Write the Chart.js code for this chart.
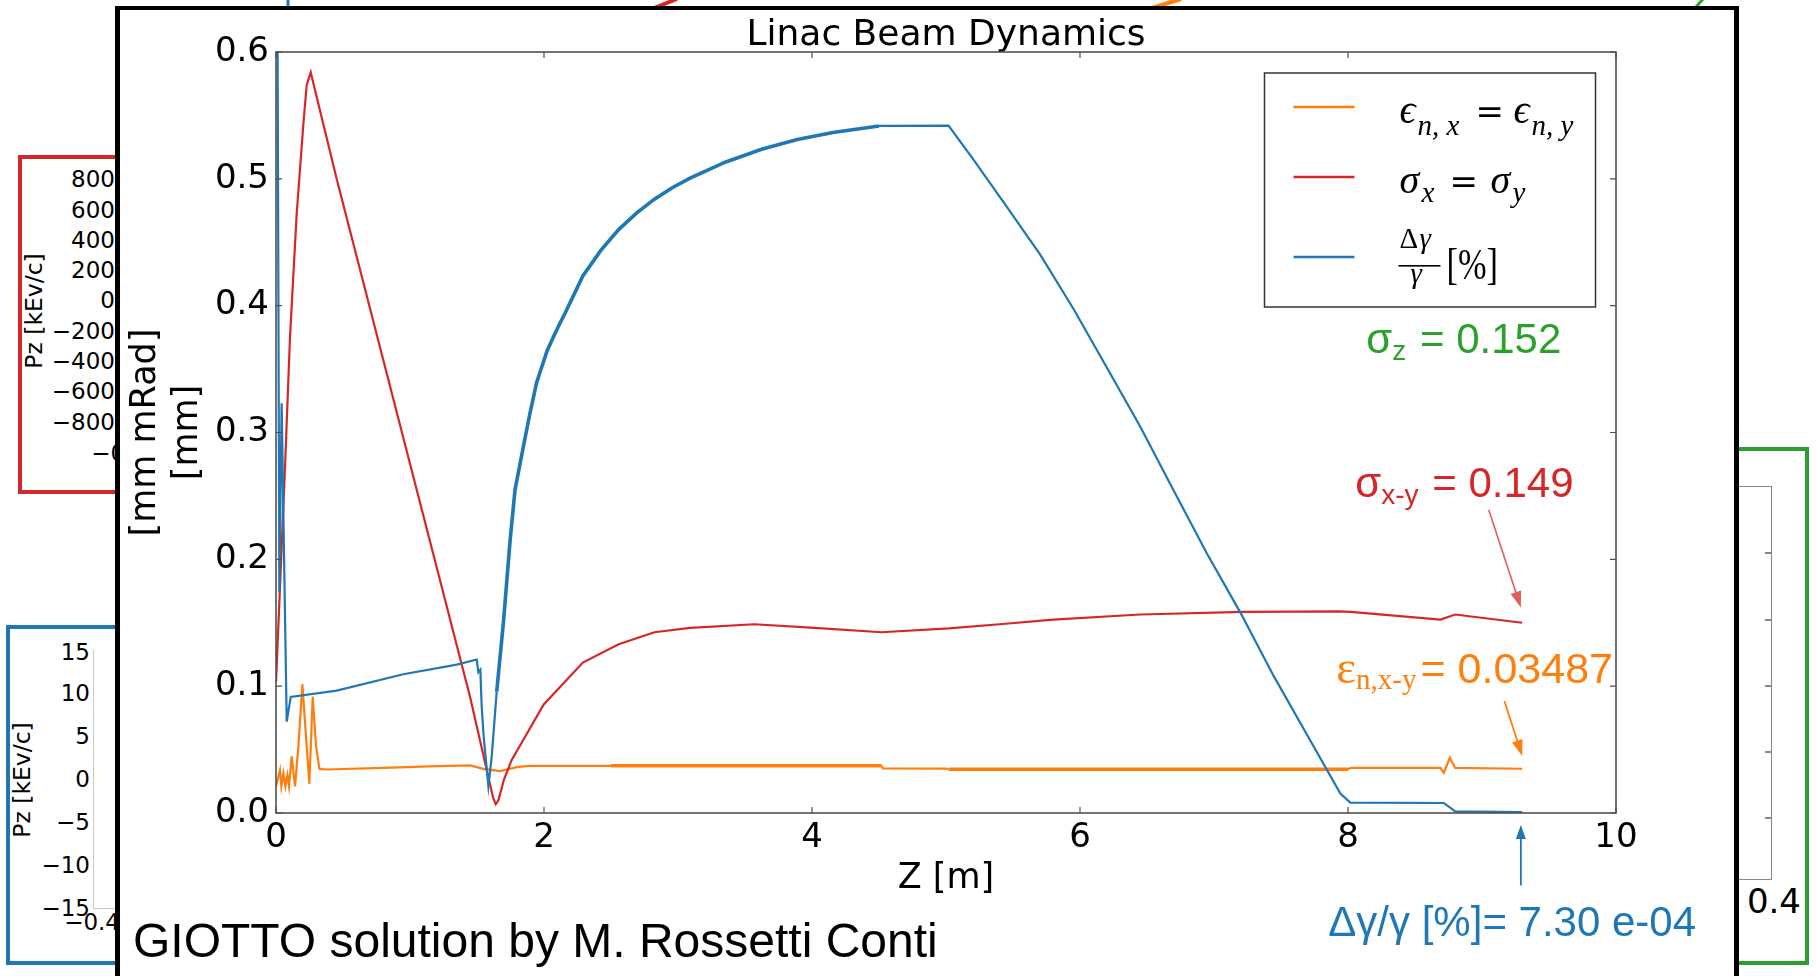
<!DOCTYPE html>
<html><head><meta charset="utf-8">
<script src="https://cdn.jsdelivr.net/npm/chart.js@4.4.0/dist/chart.umd.min.js"></script>
<style>
html,body{margin:0;padding:0;background:#fff}
body{width:1816px;height:976px;position:relative;overflow:hidden;font-family:'DejaVu Sans',sans-serif}
.bx{position:absolute;box-sizing:border-box;z-index:0}
.t{position:absolute;line-height:1;white-space:nowrap;transform:translate(-100%,-50%);font-size:23px;color:#000;z-index:0}
.rot{position:absolute;line-height:1;white-space:nowrap;transform:translate(-50%,-50%) rotate(-90deg);font-size:23.5px;z-index:0}
#frame{position:absolute;left:115px;top:6px;width:1624px;height:1000px;box-sizing:border-box;border:5px solid #000;border-top-width:4px;border-bottom:none;background:#fff;z-index:1}
#wrap{position:absolute;left:0;top:0;width:1816px;height:976px;z-index:2}
#credit{position:absolute;left:133px;top:917px;font:48px/48px 'Liberation Sans',Arial,sans-serif;white-space:nowrap;z-index:3;color:#000}
</style></head>
<body>
<!-- pieces of the slides behind -->
<svg class="bx" style="left:0;top:0" width="1816" height="12">
  <line x1="288" y1="0" x2="288" y2="7" stroke="#1f77b4" stroke-width="3"/>
  <line x1="654" y1="8" x2="677" y2="-1" stroke="#d62728" stroke-width="4"/>
  <line x1="1152" y1="8" x2="1181" y2="-1" stroke="#ff7f0e" stroke-width="4"/>
  <line x1="1695" y1="8" x2="1703" y2="-1" stroke="#2ca02c" stroke-width="3"/>
</svg>
<div class="bx" style="left:18px;top:155px;width:150px;height:339px;border:4px solid #d62728"></div>
<div class="t" style="left:115px;top:179px">800</div>
<div class="t" style="left:115px;top:210px">600</div>
<div class="t" style="left:115px;top:240px">400</div>
<div class="t" style="left:115px;top:270px">200</div>
<div class="t" style="left:115px;top:300px">0</div>
<div class="t" style="left:115px;top:331px">−200</div>
<div class="t" style="left:115px;top:361px">−400</div>
<div class="t" style="left:115px;top:391px">−600</div>
<div class="t" style="left:115px;top:422px">−800</div>
<div class="t" style="left:147px;top:453px">−0.4</div>
<div class="rot" style="left:35px;top:311px">Pz [kEv/c]</div>

<div class="bx" style="left:6px;top:625px;width:150px;height:340px;border:4px solid #1f77b4"></div>
<div class="bx" style="left:93px;top:650px;width:60px;height:259px;border-left:1.5px solid #c8c8c8;border-bottom:1.5px solid #c8c8c8"></div>
<div class="t" style="left:90px;top:652px">15</div>
<div class="t" style="left:90px;top:693px">10</div>
<div class="t" style="left:90px;top:736px">5</div>
<div class="t" style="left:90px;top:779px">0</div>
<div class="t" style="left:90px;top:822px">−5</div>
<div class="t" style="left:90px;top:865px">−10</div>
<div class="t" style="left:90px;top:908px">−15</div>
<div class="t" style="left:120px;top:922px">−0.4</div>
<div class="rot" style="left:23px;top:780px">Pz [kEv/c]</div>

<div class="bx" style="left:1700px;top:447px;width:109px;height:518px;border:4px solid #2ca02c"></div>
<div class="bx" style="left:1700px;top:486px;width:72px;height:394px;border:1.5px solid #888"></div>
<div class="bx" style="left:1765px;top:552px;width:6px;height:1.5px;background:#888"></div>
<div class="bx" style="left:1765px;top:619px;width:6px;height:1.5px;background:#888"></div>
<div class="bx" style="left:1765px;top:685px;width:6px;height:1.5px;background:#888"></div>
<div class="bx" style="left:1765px;top:751px;width:6px;height:1.5px;background:#888"></div>
<div class="bx" style="left:1765px;top:817px;width:6px;height:1.5px;background:#888"></div>
<div class="t" style="left:1801px;top:901px;font-size:34px">0.4</div>

<div id="frame"></div>
<div id="wrap"><canvas id="c" width="1816" height="976"></canvas></div>
<div id="credit">GIOTTO solution by M. Rossetti Conti</div>

<script>
const ORANGE='#ff7f0e', RED='#d62728', BLUE='#1f77b4', GREEN='#2ca02c';

// normalised emittance eps_n,x = eps_n,y [mm mrad] vs Z [m]
const zEps = [0,0.03,0.04,0.055,0.07,0.085,0.097,0.117,0.142,0.167,0.197,0.224,0.249,0.274,0.299,0.324,0.378,0.8,1.2,1.448,1.548,1.672,1.797,1.891,2.5,3.5,4.52,4.53,5.0,5.02,6.0,7.0,8.0,8.02,8.69,8.715,8.76,8.80,9.3];
const eps  = [0.021,0.0337,0.021,0.0313,0.021,0.030,0.021,0.0447,0.021,0.0525,0.1015,0.060,0.023,0.0917,0.0525,0.0348,0.0343,0.0355,0.037,0.0375,0.0348,0.033,0.0362,0.0371,0.0372,0.0372,0.0372,0.0352,0.035,0.0345,0.0345,0.0345,0.0345,0.0355,0.0355,0.0316,0.0434,0.0355,0.0349];

// beam size sigma_x = sigma_y [mm]
const zSig = [0,0.067,0.104,0.154,0.204,0.229,0.259,0.291,0.453,0.95,1.448,1.62,1.64,1.66,1.70,1.757,1.998,2.29,2.557,2.824,3.09,3.57,4.02,4.52,5.02,5.40,5.80,6.45,7.22,7.943,8.02,8.69,8.80,9.3];
const sig  = [0.103,0.272,0.374,0.472,0.543,0.574,0.584,0.570,0.4998,0.2958,0.0917,0.012,0.007,0.010,0.026,0.0415,0.0856,0.1186,0.133,0.1425,0.146,0.1488,0.146,0.1425,0.1455,0.1488,0.1525,0.1565,0.1585,0.1589,0.1585,0.1525,0.1565,0.150];

// energy spread dgamma/gamma [%]
const zDg = [0,0.012,0.025,0.042,0.08,0.11,0.453,0.95,1.349,1.498,1.51,1.525,1.535,1.55,1.585,1.61,1.647,1.697,1.747,1.784,1.837,1.891,1.944,2.024,2.104,2.157,2.29,2.424,2.557,2.69,2.824,2.957,3.09,3.357,3.624,3.89,4.157,4.50,5.019,5.205,5.454,5.703,5.952,6.201,6.45,6.698,6.947,7.196,7.445,7.694,7.943,8.017,8.715,8.80,9.3];
const dg  = [0.62,0.6,0.174,0.323,0.072,0.0915,0.0965,0.1094,0.117,0.121,0.111,0.113,0.084,0.06,0.021,0.0447,0.0957,0.150,0.215,0.255,0.284,0.313,0.339,0.3647,0.383,0.394,0.4234,0.4436,0.46,0.473,0.484,0.493,0.5005,0.5133,0.5233,0.531,0.5365,0.5417,0.542,0.5152,0.4778,0.4402,0.3974,0.351,0.3046,0.2545,0.2046,0.1582,0.1081,0.0617,0.0153,0.0082,0.0079,0.0013,0.00073];

// stretches where the trace has a fine ripple (drawn thicker)
const epsRipple = [[1.9,4.52],[5.02,8.0]];
const dgRipple = [[1.62,4.5]];

const pts = (xs, ys) => xs.map((x,i)=>({x, y:ys[i]}));
const inRip = (v, rs) => rs.some(r => v>=r[0] && v<r[1]);

function arrow(ctx,x0,y0,x1,y1,color,w,hl,hw){
  const a=Math.atan2(y1-y0,x1-x0), bx=x1-hl*Math.cos(a), by=y1-hl*Math.sin(a);
  ctx.strokeStyle=color; ctx.lineWidth=w;
  ctx.beginPath(); ctx.moveTo(x0,y0); ctx.lineTo(bx,by); ctx.stroke();
  ctx.fillStyle=color; ctx.beginPath(); ctx.moveTo(x1,y1);
  ctx.lineTo(bx+hw*Math.sin(a),by-hw*Math.cos(a)); ctx.lineTo(bx-hw*Math.sin(a),by+hw*Math.cos(a));
  ctx.closePath(); ctx.fill();
}
function rich(ctx,x,y,parts){
  for(const p of parts){ ctx.font=p[1]; ctx.fillText(p[0], x, y+(p[2]||0)); x+=ctx.measureText(p[0]).width+(p[3]||0); }
}

const axesBox = {
  id:'axesBox',
  afterDatasetsDraw(c){
    const {ctx, chartArea:a, scales:{x,y}} = c;
    ctx.save();
    ctx.strokeStyle='#505050'; ctx.lineWidth=1.6;
    ctx.strokeRect(a.left,a.top,a.right-a.left,a.bottom-a.top);
    ctx.lineWidth=1.2; ctx.beginPath();
    x.ticks.forEach(t=>{const p=x.getPixelForValue(t.value); ctx.moveTo(p,a.bottom); ctx.lineTo(p,a.bottom-6); ctx.moveTo(p,a.top); ctx.lineTo(p,a.top+6);});
    y.ticks.forEach(t=>{const p=y.getPixelForValue(t.value); ctx.moveTo(a.left,p); ctx.lineTo(a.left+6,p); ctx.moveTo(a.right,p); ctx.lineTo(a.right-6,p);});
    ctx.stroke(); ctx.restore();
  }
};

const legendBox = {
  id:'legendBox',
  afterDraw(c){
    const {ctx, chartArea:a} = c;
    const W=331, H=234, L=a.right-20.5-W, T=a.top+21;
    ctx.save();
    ctx.fillStyle='#fff'; ctx.fillRect(L,T,W,H);
    ctx.strokeStyle='#333'; ctx.lineWidth=1.5; ctx.strokeRect(L,T,W,H);
    [[ORANGE,34],[RED,104],[BLUE,184]].forEach(([col,dy])=>{
      ctx.strokeStyle=col; ctx.lineWidth=2.4; ctx.beginPath(); ctx.moveTo(L+29,T+dy); ctx.lineTo(L+90,T+dy); ctx.stroke();
    });
    ctx.fillStyle='#000'; ctx.textBaseline='alphabetic'; ctx.textAlign='left';
    const it='italic 40px "Liberation Serif", serif', sub='italic 29px "Liberation Serif", serif', eq='34px "DejaVu Serif", serif';
    ctx.font=it; ctx.fillText('ϵ',L+135,T+50);
    ctx.font=sub; ctx.fillText('n, x',L+153,T+62);
    ctx.font=eq; ctx.fillText('=',L+211,T+50);
    ctx.font=it; ctx.fillText('ϵ',L+249,T+50);
    ctx.font=sub; ctx.fillText('n, y',L+267,T+62);
    ctx.font=it; ctx.fillText('σ',L+135,T+120);
    ctx.font=sub; ctx.fillText('x',L+157,T+129);
    ctx.font=eq; ctx.fillText('=',L+185,T+120);
    ctx.font=it; ctx.fillText('σ',L+226,T+120);
    ctx.font=sub; ctx.fillText('y',L+248,T+129);
    ctx.font='29px "Liberation Serif", serif'; ctx.fillText('Δ',L+135,T+175);
    ctx.font='italic 29px "Liberation Serif", serif'; ctx.fillText('γ',L+155,T+175);
    ctx.fillRect(L+134,T+192,42,1.6);
    ctx.fillText('γ',L+146,T+210);
    ctx.translate(L+182,T+206); ctx.scale(0.78,1);
    ctx.font='44px "Liberation Serif", serif'; ctx.fillText('[%]',0,0);
    ctx.restore();
  }
};

const notes = {
  id:'notes',
  afterDraw(c){
    const {ctx, scales:{x,y}} = c;
    const X=v=>x.getPixelForValue(v), Y=v=>y.getPixelForValue(v);
    const sans=s=>s+'px "Liberation Sans", Arial, sans-serif', serif=s=>s+'px "Liberation Serif", serif';
    ctx.save(); ctx.textBaseline='alphabetic'; ctx.textAlign='left';
    ctx.fillStyle=GREEN; rich(ctx,X(8.137),Y(0.3628),[['σ',sans(42)],['z',sans(28),7,2],[' = 0.152',sans(42)]]);
    ctx.fillStyle=RED; rich(ctx,X(8.055),Y(0.2492),[['σ',sans(42)],['x-y',sans(28),7,2],[' = 0.149',sans(42)]]);
    ctx.fillStyle=ORANGE; rich(ctx,X(7.913),Y(0.1025),[['ε',serif(47)],['n,x-y',serif(29),6,4],['= 0.03487',sans(43)]]);
    ctx.fillStyle=BLUE; rich(ctx,X(7.853),Y(-0.097),[['Δγ/γ [%]= 7.30 e-04',sans(42)]]);
    arrow(ctx,X(9.05),Y(0.239),X(9.29),Y(0.162),'rgba(214,39,40,0.75)',1.6,16,5.5);
    arrow(ctx,X(9.167),Y(0.0883),X(9.30),Y(0.045),ORANGE,1.8,16,5.5);
    arrow(ctx,X(9.29),Y(-0.057),X(9.29),Y(-0.0095),BLUE,1.8,14,5);
    ctx.restore();
  }
};

const line = (data,col,rip,order) => ({data, borderColor:col, borderWidth:2.2, pointRadius:0, tension:0, order,
  segment:{borderWidth: s => inRip(s.p0.parsed.x, rip) ? 3.6 : 2.2}});

new Chart(document.getElementById('c'), {
  type:'line',
  data:{datasets:[
    line(pts(zEps,eps),ORANGE,epsRipple,2),
    line(pts(zSig,sig),RED,[],1),
    line(pts(zDg,dg),BLUE,dgRipple,0)
  ]},
  options:{
    responsive:false, animation:false, events:[],
    layout:{padding:{left:110,right:200,top:0,bottom:0}},
    plugins:{
      legend:{display:false}, tooltip:{enabled:false},
      title:{display:true,fullSize:false,text:'Linac Beam Dynamics',color:'#000',
        font:{family:'DejaVu Sans',size:36,weight:'normal',lineHeight:1.0},padding:{top:17.5,bottom:-1.5}}
    },
    scales:{
      x:{type:'linear',min:0,max:10,
        ticks:{stepSize:2,color:'#000',padding:5,font:{family:'DejaVu Sans',size:34},callback:v=>String(v)},
        grid:{display:false,drawTicks:false},border:{display:false},
        title:{display:true,text:'Z [m]',color:'#000',font:{family:'DejaVu Sans',size:35,lineHeight:1.2},padding:{top:0,bottom:76}},
        afterFit:s=>{s.height=163;}},
      y:{type:'linear',min:0,max:0.6,
        ticks:{stepSize:0.1,color:'#000',padding:7,font:{family:'DejaVu Sans',size:34},callback:v=>v.toFixed(1)},
        grid:{display:false,drawTicks:false},border:{display:false},
        title:{display:true,text:['[mm mRad]','[mm]'],color:'#000',font:{family:'DejaVu Sans',size:35,lineHeight:1.2},padding:{top:15,bottom:0}},
        afterFit:s=>{s.width=166;}}
    }
  },
  plugins:[axesBox,legendBox,notes]
});
</script>
</body></html>
